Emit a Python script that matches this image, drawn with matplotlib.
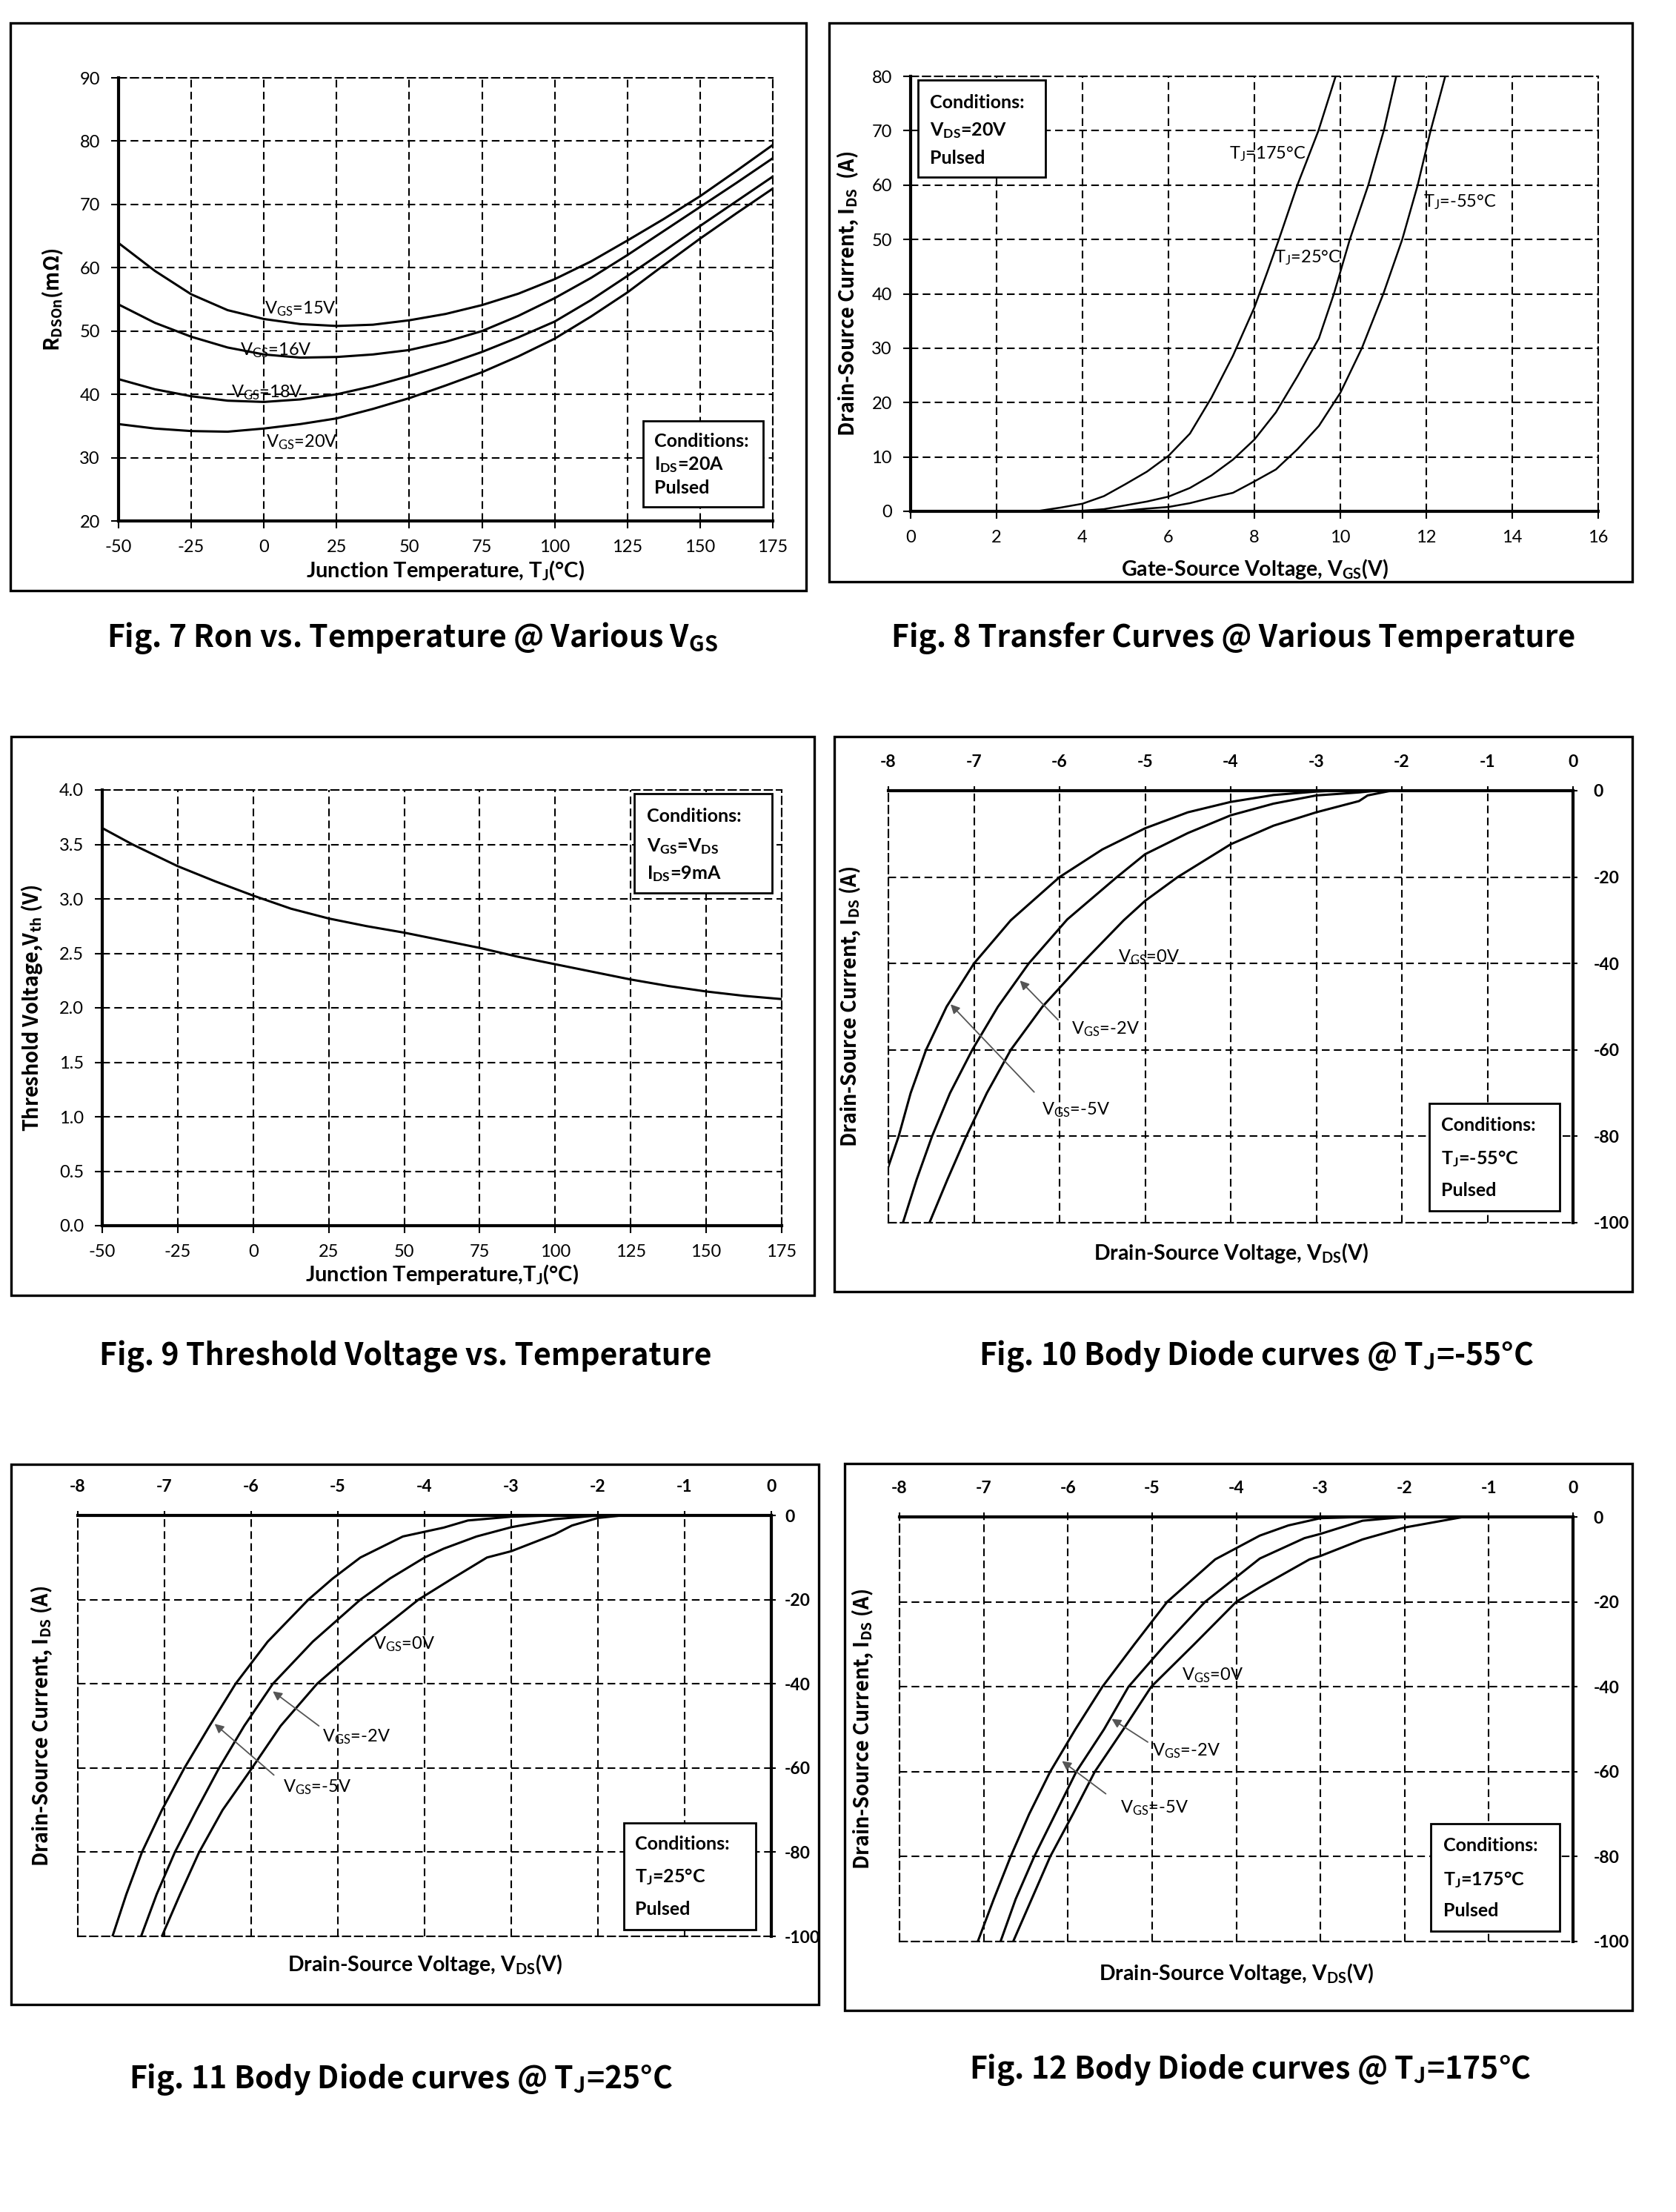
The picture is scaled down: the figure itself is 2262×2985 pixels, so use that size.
import matplotlib
matplotlib.use('Agg')
import matplotlib.pyplot as plt
from matplotlib.patches import Rectangle

plt.rcParams['font.family'] = ['Lato', 'DejaVu Sans']
plt.rcParams['mathtext.default'] = 'regular'
plt.rcParams['axes.unicode_minus'] = False
plt.rcParams['lines.solid_joinstyle'] = 'round'

## data
# Fig 7: Ron vs temperature
t7 = [-50, -37.5, -25, -12.5, 0, 12.5, 25, 37.5, 50, 62.5, 75, 87.5, 100, 112.5, 125, 137.5, 150, 162.5, 175]
ron_15v = [63.9, 59.5, 55.8, 53.3, 51.9, 51.1, 50.8, 51.0, 51.7, 52.7, 54.1, 55.9, 58.2, 61.0, 64.3, 67.7, 71.3, 75.3, 79.4]
ron_16v = [54.2, 51.3, 49.1, 47.4, 46.3, 45.8, 45.9, 46.3, 47.0, 48.3, 50.0, 52.4, 55.2, 58.4, 62.0, 65.8, 69.6, 73.4, 77.3]
ron_18v = [42.4, 40.8, 39.7, 39.0, 38.8, 39.2, 40.0, 41.3, 42.9, 44.7, 46.7, 49.0, 51.5, 54.9, 58.7, 62.6, 66.6, 70.5, 74.4]
ron_20v = [35.3, 34.6, 34.2, 34.1, 34.6, 35.3, 36.2, 37.7, 39.4, 41.4, 43.5, 46.0, 48.8, 52.3, 56.1, 60.4, 64.6, 68.6, 72.5]

# Fig 8: transfer curves
vgs_175 = [2.0, 2.5, 3.0, 3.5, 4.0, 4.5, 5.0, 5.5, 6.0, 6.5, 7.0, 7.5, 8.0, 8.3, 8.57, 9.0, 9.49, 9.89]
ids_175 = [0, 0, 0.1, 0.7, 1.4, 2.8, 5.0, 7.3, 10.2, 14.3, 20.9, 28.6, 37.5, 44, 50, 60, 70, 80]
vgs_25 = [3.8, 4.5, 5.0, 5.5, 6.0, 6.5, 7.0, 7.5, 8.0, 8.5, 9.0, 9.5, 9.85, 10.22, 10.65, 11.01, 11.3]
ids_25 = [0, 0.4, 1.1, 1.8, 2.7, 4.3, 6.6, 9.5, 13.2, 18.2, 24.8, 31.8, 40, 50, 60, 70, 80]
vgs_m55 = [4.8, 5.5, 6.0, 6.5, 7.0, 7.5, 8.0, 8.5, 9.0, 9.5, 10.0, 10.5, 11.0, 11.44, 11.8, 12.1, 12.44]
ids_m55 = [0, 0.5, 0.8, 1.5, 2.5, 3.4, 5.5, 7.7, 11.4, 15.7, 21.8, 30, 40, 50, 60, 70, 80]

# Fig 9: threshold voltage
t9 = [-50, -40, -25, -12.5, 0, 12.5, 25, 37.5, 50, 62.5, 75, 87.5, 100, 112.5, 125, 137.5, 150, 162.5, 175]
vth = [3.65, 3.50, 3.30, 3.16, 3.03, 2.91, 2.82, 2.75, 2.69, 2.62, 2.55, 2.47, 2.40, 2.33, 2.26, 2.20, 2.15, 2.11, 2.08]

# Fig 10: body diode @ -55C (VGS = 0, -2, -5 V)
v10_0 = [-2.05, -2.15, -2.4, -2.5, -3.0, -3.5, -4.0, -4.62, -5.0, -5.25, -5.74, -6.2, -6.57, -6.85, -7.09, -7.31, -7.52]
i10_0 = [0, -0.1, -1.1, -2.4, -5.0, -8.1, -12.4, -20, -25.5, -30, -40, -50, -60, -70, -80, -90, -100]
v10_2 = [-2.3, -2.5, -3.0, -3.5, -4.0, -4.5, -5.0, -5.33, -5.91, -6.36, -6.72, -7.02, -7.28, -7.49, -7.67, -7.83]
i10_2 = [0, -0.4, -1.1, -3.0, -5.7, -9.8, -14.7, -20, -29.8, -40, -50, -60, -70, -80, -90, -100]
v10_5 = [-2.8, -3.0, -3.5, -4.0, -4.5, -5.0, -5.5, -6.0, -6.57, -7.0, -7.32, -7.56, -7.74, -7.88, -8.0]
i10_5 = [0, -0.2, -1.0, -2.6, -5.0, -8.7, -13.6, -20, -30, -40, -50, -60, -70, -80, -87]

# Fig 11: body diode @ 25C
v11_0 = [-1.72, -2.0, -2.3, -2.5, -3.0, -3.28, -3.68, -4.07, -4.68, -5.24, -5.66, -5.99, -6.33, -6.6, -6.82, -7.03]
i11_0 = [0, -0.6, -2.4, -4.5, -8.5, -10, -15, -20, -30, -40, -50, -60, -70, -80, -90, -100]
v11_2 = [-2.0, -2.5, -3.0, -3.4, -3.78, -4.0, -4.4, -4.74, -5.29, -5.75, -6.08, -6.37, -6.63, -6.88, -7.09, -7.27]
i11_2 = [0, -0.9, -2.8, -5, -7.9, -10, -15, -20, -30, -40, -50, -60, -70, -80, -90, -100]
v11_5 = [-2.5, -3.0, -3.5, -3.78, -4.25, -4.74, -5.06, -5.34, -5.81, -6.18, -6.48, -6.77, -7.03, -7.26, -7.44, -7.6]
i11_5 = [0, -0.3, -1.2, -2.9, -5, -10, -15, -20, -30, -40, -50, -60, -70, -80, -90, -100]

# Fig 12: body diode @ 175C
v12_0 = [-1.3, -2.0, -2.5, -3.0, -3.13, -3.72, -4.0, -4.5, -5.01, -5.34, -5.68, -5.94, -6.21, -6.43, -6.65]
i12_0 = [0, -2.5, -5.3, -9.2, -10, -16.6, -20, -30, -40, -50, -60, -70, -80, -90, -100]
v12_2 = [-2.0, -2.5, -3.0, -3.19, -3.72, -4.37, -4.84, -5.28, -5.57, -5.9, -6.15, -6.4, -6.62, -6.8]
i12_2 = [0, -0.9, -4.0, -5, -9.8, -20, -30, -40, -50, -60, -70, -80, -90, -100]
v12_5 = [-2.5, -3.0, -3.38, -3.72, -4.25, -4.82, -5.21, -5.59, -5.91, -6.21, -6.46, -6.68, -6.88, -7.07]
i12_5 = [0, -0.3, -2, -4.4, -10, -20, -30, -40, -50, -60, -70, -80, -90, -100]

captions = ['Fig. 7 Ron vs. Temperature @ Various V$_{GS}$',
            'Fig. 8 Transfer Curves @ Various Temperature',
            'Fig. 9 Threshold Voltage vs. Temperature',
            'Fig. 10 Body Diode curves @ T$_{J}$=-55°C',
            'Fig. 11 Body Diode curves @ T$_{J}$=25°C',
            'Fig. 12 Body Diode curves @ T$_{J}$=175°C']

W, H = 2262, 2985
fig = plt.figure(figsize=(W / 100, H / 100), dpi=100)

YFONT = ['Noto Sans CJK SC', 'DejaVu Sans']
GRID = dict(color='k', lw=1.5, ls=(0, (5, 2.8)))


def make_axes(box):
    x0, y0, x1, y1 = box
    return fig.add_axes([x0 / W, 1 - y1 / H, (x1 - x0) / W, (y1 - y0) / H])


def frame(box):
    x0, y0, x1, y1 = box
    fig.add_artist(Rectangle((x0 / W, 1 - y1 / H), (x1 - x0) / W, (y1 - y0) / H,
                             transform=fig.transFigure, fill=False, lw=2.4, ec='k'))


def style(ax, box, solid, xlab, ylab, xlab_top, ylab_right, xsize=21):
    x0, y0, x1, y1 = box
    ax.grid(True, **GRID)
    ax.set_axisbelow(True)
    for s in ['left', 'right', 'top', 'bottom']:
        sp = ax.spines[s]
        if s in solid:
            sp.set_linewidth(3.0)
        else:
            sp.set_linewidth(GRID['lw'])
            sp.set_linestyle(GRID['ls'])
    ax.tick_params(length=7, width=1.5, labelsize=17, pad=11)
    ax.set_xlabel(xlab, fontsize=xsize, fontweight='bold')
    ax.set_ylabel(ylab, fontsize=19.5, fontweight='bold', family=YFONT)
    ax.xaxis.set_label_coords(0.5, (y1 - xlab_top) / (y1 - y0))
    ax.yaxis.set_label_coords((ylab_right - x0) / (x1 - x0), 0.5)


def cond_box(ax, x0, x1, y0, y1, tx, lines):
    ax.add_patch(Rectangle((x0, y0), x1 - x0, y1 - y0, fc='white', lw=2.0, ec='k', zorder=5))
    for y, s in lines:
        ax.text(tx, y, s, fontsize=18, fontweight='bold', va='center', ha='left', zorder=6)


# ---------- Fig 7 ----------
box = (160, 105, 1043, 703)
frame((14, 31, 1088, 797))
ax = make_axes(box)
for r in [ron_15v, ron_16v, ron_18v, ron_20v]:
    ax.plot(t7, r, color='k', lw=2.2)
ax.set_xlim(-50, 175)
ax.set_ylim(20, 90)
ax.set_xticks(range(-50, 176, 25))
ax.set_yticks(range(20, 91, 10))
style(ax, box, ['left', 'bottom'], 'Junction Temperature, T$_{J}$(°C)',
      'R$_{DSOn}$(mΩ)', 754, 88)
for x, y, s in [(0.3, 53.5, 'V$_{GS}$=15V'), (-8.3, 47.0, 'V$_{GS}$=16V'),
                (-11.3, 40.3, 'V$_{GS}$=18V'), (0.6, 32.4, 'V$_{GS}$=20V')]:
    ax.text(x, y, s, fontsize=17, va='center', ha='left')
cond_box(ax, 130.4, 171.8, 22.2, 35.8, 134.3,
         [(32.6, 'Conditions:'), (28.9, 'I$_{DS}$=20A'), (25.2, 'Pulsed')])

# ---------- Fig 8 ----------
box = (1229, 103, 2157, 690)
frame((1119, 31, 2203, 785))
ax = make_axes(box)
ax.plot(vgs_175, ids_175, color='k', lw=1.8)
ax.plot(vgs_25, ids_25, color='k', lw=1.8)
ax.plot(vgs_m55, ids_m55, color='k', lw=1.8)
ax.set_xlim(0, 16)
ax.set_ylim(0, 80)
ax.set_xticks(range(0, 17, 2))
ax.set_yticks(range(0, 81, 10))
style(ax, box, ['left', 'bottom'], 'Gate-Source Voltage, V$_{GS}$(V)',
      'Drain-Source Current, I$_{DS}$  (A)', 752, 1161, xsize=20.5)
for x, y, s in [(7.41, 65.7, 'T$_{J}$=175°C'), (8.47, 46.7, 'T$_{J}$=25°C'),
                (11.93, 56.9, 'T$_{J}$=-55°C')]:
    ax.text(x, y, s, fontsize=17, va='center', ha='left')
cond_box(ax, 0.17, 3.13, 61.4, 79.3, 0.45,
         [(75.2, 'Conditions:'), (70.1, 'V$_{DS}$=20V'), (64.9, 'Pulsed')])

# ---------- Fig 9 ----------
box = (138, 1066, 1055, 1654)
frame((15, 994, 1099, 1748))
ax = make_axes(box)
ax.plot(t9, vth, color='k', lw=2.2)
ax.set_xlim(-50, 175)
ax.set_ylim(0, 4)
ax.set_xticks(range(-50, 176, 25))
ax.set_yticks([0, 0.5, 1, 1.5, 2, 2.5, 3, 3.5, 4])
ax.set_yticklabels(['0.0', '0.5', '1.0', '1.5', '2.0', '2.5', '3.0', '3.5', '4.0'])
style(ax, box, ['left', 'bottom'], 'Junction Temperature,T$_{J}$(°C)',
      'Threshold Voltage,V$_{th}$ (V)', 1704, 60)
cond_box(ax, 126.2, 171.8, 3.053, 3.966, 130.4,
         [(3.76, 'Conditions:'), (3.48, 'V$_{GS}$=V$_{DS}$'), (3.23, 'I$_{DS}$=9mA')])


# ---------- Fig 10-12: body diode ----------
def diode(box, fbox, curves, labels, arrows, cbox, ctext, xlab_top, ylab_right, tpad=16):
    ax = make_axes(box)
    for v, i in curves:
        ax.plot(v, i, color='k', lw=2.2)
    ax.set_xlim(-8, 0)
    ax.set_ylim(-100, 0)
    ax.set_xticks(range(-8, 1))
    ax.set_yticks(range(-100, 1, 20))
    ax.xaxis.tick_top()
    ax.yaxis.tick_right()
    style(ax, box, ['top', 'right'], 'Drain-Source Voltage, V$_{DS}$(V)',
          'Drain-Source Current, I$_{DS}$ (A)', xlab_top, ylab_right, xsize=20.5)
    ax.xaxis.set_label_position('bottom')
    ax.yaxis.set_label_position('left')
    x0, y0, x1, y1 = box
    ax.xaxis.set_label_coords(0.5, (y1 - xlab_top) / (y1 - y0))
    ax.yaxis.set_label_coords((ylab_right - x0) / (x1 - x0), 0.5)
    ax.tick_params(axis='x', length=4, labelsize=16.5, pad=16)
    ax.tick_params(axis='y', length=4, labelsize=16.5, pad=tpad)
    for t in ax.get_xticklabels() + ax.get_yticklabels():
        t.set_fontweight('bold')
    for x, y, s in labels:
        ax.text(x, y, s, fontsize=17, va='center', ha='left')
    for tail, head in arrows:
        ax.annotate('', xy=head, xytext=tail,
                    arrowprops=dict(arrowstyle='-|>', color='#555555', lw=1.3, mutation_scale=18))
    cond_box(ax, cbox[0], cbox[1], cbox[2], cbox[3], cbox[4], ctext)
    frame(fbox)


diode((1199, 1067, 2123, 1650), (1126, 994, 2203, 1743),
      [(v10_0, i10_0), (v10_2, i10_2), (v10_5, i10_5)],
      [(-5.32, -38.5, 'V$_{GS}$=0V'), (-5.86, -55.1, 'V$_{GS}$=-2V'), (-6.21, -73.8, 'V$_{GS}$=-5V')],
      [((-6.0, -53.4), (-6.48, -43.6)), ((-6.28, -70.1), (-7.29, -49.1))],
      (-1.68, -0.155, -97.3, -72.4, -1.54),
      [(-77.4, 'Conditions:'), (-85.2, 'T$_{J}$=-55°C'), (-92.6, 'Pulsed')],
      1675, 1164)

diode((105, 2045, 1041, 2613), (15, 1976, 1105, 2705),
      [(v11_0, i11_0), (v11_2, i11_2), (v11_5, i11_5)],
      [(-4.59, -30.6, 'V$_{GS}$=0V'), (-5.18, -52.5, 'V$_{GS}$=-2V'), (-5.63, -64.6, 'V$_{GS}$=-5V')],
      [((-5.2, -50.3), (-5.77, -41.5)), ((-5.72, -62.0), (-6.44, -49.2))],
      (-1.70, -0.18, -98.4, -73.0, -1.57),
      [(-78.0, 'Conditions:'), (-85.9, 'T$_{J}$=25°C'), (-93.5, 'Pulsed')],
      2635, 73, tpad=9)

diode((1214, 2047, 2123, 2620), (1140, 1975, 2203, 2713),
      [(v12_0, i12_0), (v12_2, i12_2), (v12_5, i12_5)],
      [(-4.65, -37.3, 'V$_{GS}$=0V'), (-5.0, -55.1, 'V$_{GS}$=-2V'), (-5.38, -68.5, 'V$_{GS}$=-5V')],
      [((-5.03, -53.3), (-5.5, -47.3)), ((-5.53, -65.5), (-6.09, -57.2))],
      (-1.69, -0.16, -97.6, -72.2, -1.54),
      [(-77.4, 'Conditions:'), (-85.4, 'T$_{J}$=175°C'), (-92.8, 'Pulsed')],
      2647, 1181)

# captions under each panel
for (cx, cy), s in zip([(557, 861), (1665, 861), (547, 1830), (1696, 1830), (541, 2806), (1687, 2793)], captions):
    fig.text(cx / W, 1 - cy / H, s, fontsize=29.5, ha='center', va='center', fontweight='bold',
             family=['Noto Sans CJK SC', 'DejaVu Sans'])

fig.savefig('out.png', dpi=100, facecolor='white')
